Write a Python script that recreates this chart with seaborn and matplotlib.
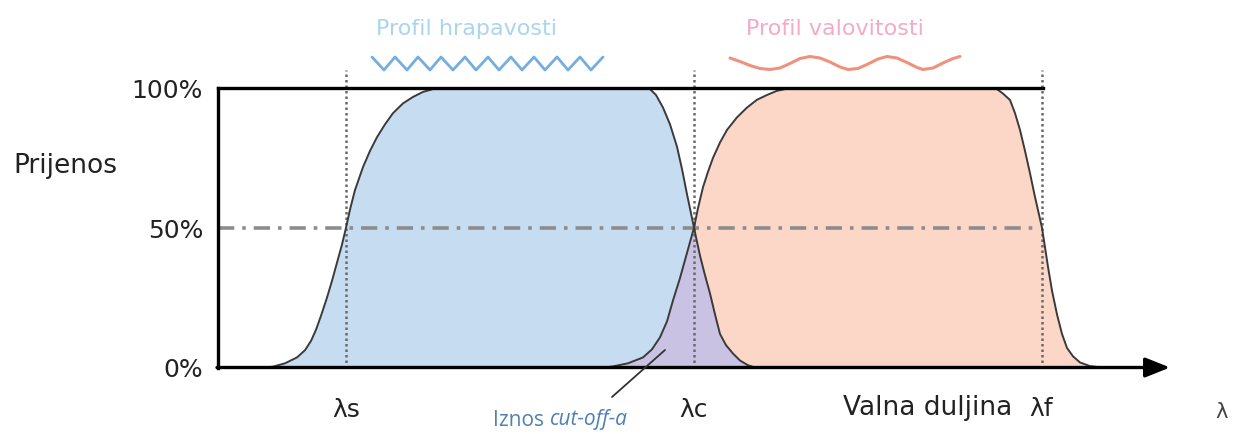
import numpy as np
import matplotlib
matplotlib.use('Agg')
import matplotlib.pyplot as plt
import seaborn as sns

# --- DATA (x in wavelength-position units, y in % transmission) ---
LAMBDA_S, LAMBDA_C, LAMBDA_F = 346, 694, 1042

rough_x = [265, 273, 285, 297, 305, 311, 316, 321, 327, 332, 337, 342, 346, 350, 355,
           363, 370, 377, 385, 393, 403, 413, 423, 433, 440,
           640, 645, 650, 656, 663, 670, 677, 682, 687, 694, 700, 705, 710, 715, 720,
           726, 733, 740, 748, 755]
rough_y = [0, 0.3, 1.5, 3.6, 6.2, 9.5, 13.5, 18.5, 25, 31, 37.5, 44, 50, 56.5, 63.5,
           71.7, 77.5, 82.4, 87, 91, 94.5, 96.8, 98.6, 99.6, 100,
           100, 99.9, 99.6, 97.5, 93, 87, 79, 71, 62, 50, 40, 33, 26.5, 19, 12,
           8, 5, 2.5, 0.8, 0]

wavi_x = [605, 613, 628, 643, 652, 660, 667, 673, 680, 687, 694, 698, 703, 708, 713,
          720, 727, 737, 747, 757, 767, 777, 785, 795,
          990, 997, 1003, 1010, 1015, 1020, 1025, 1030, 1035, 1042, 1045, 1048, 1052,
          1057, 1062, 1067, 1073, 1080, 1090, 1102]
wavi_y = [0, 0.4, 1.5, 3.6, 6.5, 10.8, 16.5, 24, 32, 41, 50, 57, 64.5, 70, 75,
          80.5, 85, 89.5, 93, 95.8, 97.5, 99, 99.6, 100,
          100, 99.6, 98, 95.7, 91, 85, 77.5, 69.5, 61, 50, 43, 36, 27.5,
          19, 12, 7, 4, 1.8, 0.5, 0]

# decorative profile sketches above the chart (pixel rows)
zig_x = [372, 384, 395, 407, 418, 430, 441, 453, 465, 476, 488, 499, 511, 522, 534,
         545, 557, 568, 580, 591, 603]
zig_py = [57, 70, 57, 70, 57, 70, 57, 70, 57, 70, 57, 70, 57, 70, 57, 70, 57, 70, 57, 70, 57]

wave_x = [730, 740, 750, 760, 770, 780, 790, 800, 810, 820, 830, 840, 848, 858, 868,
          878, 887, 897, 907, 917, 923, 933, 943, 953, 960]
wave_py = [58, 61.5, 65.5, 68.5, 69.5, 68, 63.5, 58.5, 56.5, 58, 62, 67, 69.5, 68.5, 64,
           59, 56.5, 58, 62.5, 67.5, 69.5, 68, 63, 58.5, 56.5]

y_ticks = [100, 50, 0]
y_tick_labels = ['100%', '50%', '0%']

BLUE_FILL = '#c6dcf1'
PINK_FILL = '#fcd7c8'
PURPLE_FILL = '#c9c2e3'


def pct(py):
    """pixel row of the original sketch -> % transmission"""
    return (367.5 - np.asarray(py, dtype=float)) / 2.795


sns.set_theme(style='white')
plt.rcParams['font.family'] = ['DejaVu Sans']

fig = plt.figure(figsize=(12.45, 4.34), dpi=100)
ax = fig.add_axes([0, 0, 1, 1])
ax.set_xlim(0, 1245)
ax.set_ylim(pct(434), pct(0))
ax.axis('off')

# filled pass bands
ax.fill_between(rough_x, 0, rough_y, color=BLUE_FILL, lw=0, zorder=1)
ax.fill_between(wavi_x, 0, wavi_y, color=PINK_FILL, lw=0, zorder=1)
grid = np.linspace(wavi_x[0], rough_x[-1], 300)
overlap = np.minimum(np.interp(grid, rough_x, rough_y), np.interp(grid, wavi_x, wavi_y))
ax.fill_between(grid, 0, overlap, color=PURPLE_FILL, lw=0, zorder=1.5)

# 50% reference line
ax.plot([218, 1036], [50, 50], color='#8c8c8c', lw=2.6,
        linestyle=(0, (4.5, 2.2, 1.0, 2.2)), zorder=2)

# cut-off wavelengths
for lx in [LAMBDA_S, LAMBDA_C, LAMBDA_F]:
    ax.plot([lx, lx], [0, pct(70)], color='#6a6a6a', lw=1.8,
            linestyle=(0, (1, 1.2)), zorder=3)

# transmission curves
sns.lineplot(x=rough_x, y=rough_y, sort=False, estimator=None, color='#3a3a3a',
             lw=1.4, ax=ax, zorder=4)
sns.lineplot(x=wavi_x, y=wavi_y, sort=False, estimator=None, color='#3a3a3a',
             lw=1.4, ax=ax, zorder=4)

# frame
ax.plot([218, 218], [0, 100], color='black', lw=2.4, zorder=5, solid_capstyle='projecting')
ax.plot([218, 1043], [100, 100], color='black', lw=2.4, zorder=5, solid_capstyle='projecting')
ax.annotate('', xy=(1170, 0), xytext=(217, 0), zorder=5,
            arrowprops=dict(arrowstyle='-|>,head_length=0.75,head_width=0.3',
                            lw=2.4, color='black', shrinkA=0, shrinkB=0,
                            mutation_scale=20))

# profile sketches
sns.lineplot(x=zig_x, y=pct(zig_py), sort=False, estimator=None, color='#74aee0',
             lw=2.0, ax=ax)
sns.lineplot(x=wave_x, y=pct(wave_py), sort=False, estimator=None, color='#f0917e',
             lw=2.2, ax=ax)
ax.text(466, pct(29), 'Profil hrapavosti', ha='center', va='center', fontsize=16,
        color='#a9d5ee')
ax.text(835, pct(29), 'Profil valovitosti', ha='center', va='center', fontsize=16,
        color='#f4aac8')

# axis labels
txt = '#222222'
for yv, lab in zip(y_ticks, y_tick_labels):
    ax.text(203, yv - 1, lab, ha='right', va='center', fontsize=18, color=txt)
ax.text(13, pct(166), 'Prijenos', ha='left', va='center', fontsize=19, color=txt)

ax.text(LAMBDA_S, pct(410), 'λs', ha='center', va='center', fontsize=18, color=txt)
ax.text(LAMBDA_C, pct(410), 'λc', ha='center', va='center', fontsize=18, color=txt)
ax.text(1041, pct(409), 'λf', ha='center', va='center', fontsize=18, color=txt)
ax.text(1012, pct(408), 'Valna duljina', ha='right', va='center', fontsize=19, color=txt)
ax.text(1222, pct(412), 'λ', ha='center', va='center', fontsize=15, color='#444444')

# cut-off annotation
ax.plot([612, 665], pct([397, 350]), color='#333333', lw=1.3, zorder=6)
ax.text(544, pct(420), 'Iznos', ha='right', va='center', fontsize=15,
        color='#4d80b3', family=['Open Sans', 'DejaVu Sans'])
ax.text(550, pct(420), 'cut-off-a', ha='left', va='center', fontsize=15,
        color='#4d80b3', style='italic', family=['Open Sans', 'DejaVu Sans'])

plt.savefig('out.png', dpi=100)
plt.close()
